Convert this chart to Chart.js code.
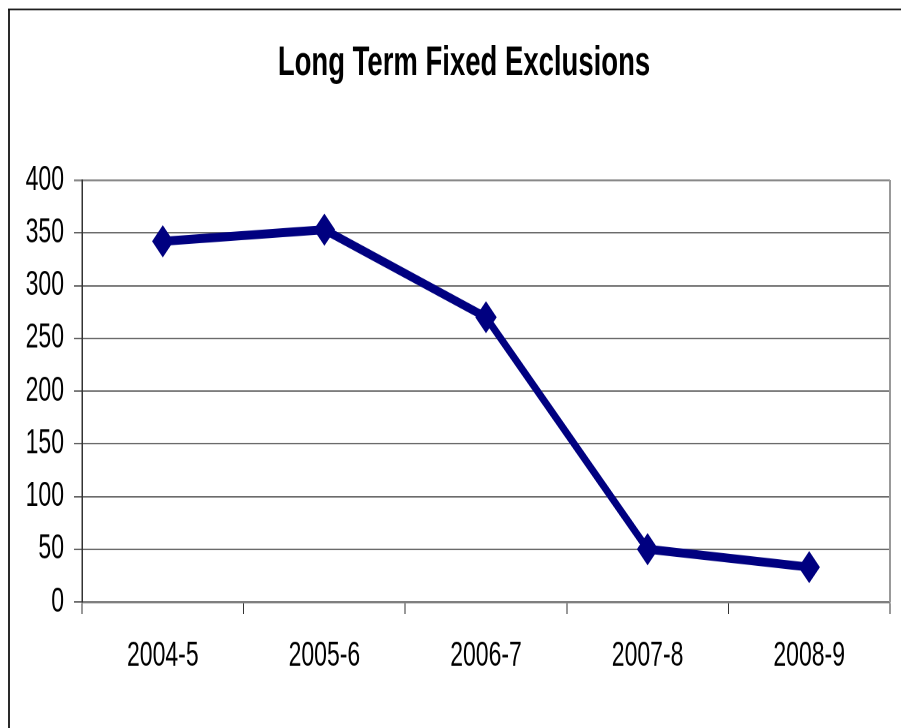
<!DOCTYPE html>
<html>
<head>
<meta charset="utf-8">
<title>Long Term Fixed Exclusions</title>
<script src="https://cdn.jsdelivr.net/npm/chart.js@4.4.1/dist/chart.umd.min.js"></script>
<style>
    html, body { margin: 0; padding: 0; background: #fff; overflow: hidden; }
    canvas { display: block; }
</style>
</head>
<body>
<!-- drawn at 2/3 height and stretched, the original picture is squashed like that -->
<canvas id="chart" width="901" height="485" style="width:901px;height:728px"></canvas>
<script>
var chartTitle = "Long Term Fixed Exclusions";
var seasons = ["2004-5", "2005-6", "2006-7", "2007-8", "2008-9"];
var exclusions = [342, 353, 270, 50, 33];
var yMin = 0;
var yMax = 400;
var yStep = 50;

var fontFamily = "'Liberation Sans', Arial, sans-serif";

// page frame and right edge of the plot box
var framePlugin = {
    id: "frame",
    beforeDraw: function (chart) {
        var ctx = chart.ctx;
        ctx.save();
        ctx.strokeStyle = "#2a2a2a";
        ctx.lineWidth = 2;
        ctx.beginPath();
        ctx.moveTo(9, chart.height);
        ctx.lineTo(9, 6);
        ctx.stroke();
        ctx.lineWidth = 1;
        ctx.strokeStyle = "#111";
        ctx.beginPath();
        ctx.moveTo(8, 6.3);
        ctx.lineTo(chart.width, 6.3);
        ctx.stroke();
        ctx.restore();
    },
    beforeDatasetsDraw: function (chart) {
        var ctx = chart.ctx;
        var area = chart.chartArea;
        ctx.save();
        ctx.strokeStyle = "#999";
        ctx.lineWidth = 2;
        ctx.beginPath();
        ctx.moveTo(area.right, area.top);
        ctx.lineTo(area.right, area.bottom);
        ctx.stroke();
        ctx.restore();
    }
};

var ctx = document.getElementById("chart").getContext("2d");

new Chart(ctx, {
    type: "line",
    data: {
        labels: seasons,
        datasets: [
            {
                label: chartTitle,
                data: exclusions,
                borderColor: "#000080",
                backgroundColor: "#000080",
                borderWidth: 6,
                tension: 0,
                fill: false,
                pointStyle: "rectRot",
                pointRadius: 10,
                pointHoverRadius: 10,
                pointBorderWidth: 1,
                pointBackgroundColor: "#000080",
                pointBorderColor: "#000080",
            },
        ],
    },
    options: {
        responsive: false,
        animation: false,
        devicePixelRatio: 2,
        events: [],
        layout: {
            padding: { left: 37, right: 10, top: 0, bottom: 0 },
        },
        plugins: {
            legend: { display: false },
            tooltip: { enabled: false },
            title: {
                display: true,
                text: chartTitle,
                color: "#000",
                font: { family: fontFamily, size: 27.5, weight: "bold" },
                padding: { top: 26, bottom: 61 },
            },
        },
        scales: {
            x: {
                offset: true,
                grid: {
                    offset: true,
                    drawOnChartArea: false,
                    drawTicks: true,
                    tickLength: 8,
                    color: "#333",
                    lineWidth: 1,
                },
                border: { display: true, color: "#777", width: 1.4 },
                ticks: {
                    color: "#000",
                    padding: 14.5,
                    maxRotation: 0,
                    font: { family: fontFamily, size: 23 },
                },
                afterFit: function (scale) {
                    scale.height = 84;
                },
            },
            y: {
                min: yMin,
                max: yMax,
                ticks: {
                    stepSize: yStep,
                    color: "#000",
                    padding: 10,
                    font: { family: fontFamily, size: 23 },
                },
                grid: {
                    tickLength: 8,
                    color: function (c) {
                        return c.tick && c.tick.value === yMax ? "#888" : "#3a3a3a";
                    },
                    lineWidth: function (c) {
                        return c.tick && c.tick.value === yMax ? 1.3 : 0.8;
                    },
                },
                border: { display: true, color: "#333", width: 1.5 },
                afterFit: function (scale) {
                    scale.width = 45;
                    // the labels stick out past the narrow box, do not clip them
                    scale._computeLabelArea = function () {};
                },
            },
        },
    },
    plugins: [framePlugin],
});
</script>
</body>
</html>
